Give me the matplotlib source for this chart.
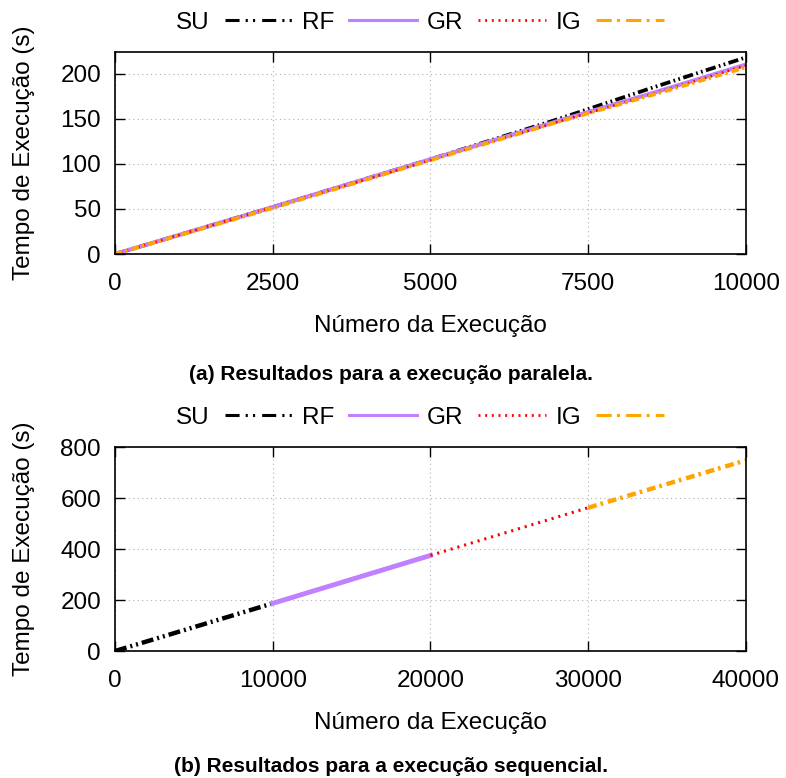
import matplotlib
matplotlib.use('Agg')
import matplotlib.pyplot as plt
from matplotlib.lines import Line2D

plt.rcParams['font.family'] = ['Liberation Sans', 'DejaVu Sans']

# (a) execucao paralela
par_x = [0, 2500, 5000, 7000, 8500, 10000]
par_su = [0, 52, 105, 149, 184, 218]
par_rf = [0, 52, 105, 147, 178, 210]
par_gr = [0, 52, 104, 146, 177, 209]
par_ig = [0, 51, 104, 146, 176, 207]

# (b) execucao sequencial
seq_su_x = [0, 10000]
seq_su = [0, 187]
seq_rf_x = [10000, 20000]
seq_rf = [187, 375]
seq_gr_x = [20000, 30000]
seq_gr = [375, 562]
seq_ig_x = [30000, 40000]
seq_ig = [562, 748]

labels = ['SU', 'RF', 'GR', 'IG']
cores = ['black', '#c080ff', '#ff0000', '#ffa500']
estilos = [(0, (2.7, 0.9, 0.45, 0.9, 0.45, 0.9)), '-', (0, (0.7, 1.6)), (0, (2.0, 0.9, 0.6, 1.1))]
larg = [3.2, 3.5, 2.2, 3.2]
# amostras da legenda (tracos mais longos, linha mais fina)
estilos_leg = [(0, (4.6, 2, 0.7, 1.7, 0.7, 2.3)), '-', (0, (0.7, 1.7)), (0, (5, 1.7, 1, 2))]
larg_leg = [2.2, 2.2, 2.0, 2.2]

fs = 17.5

fig = plt.figure(figsize=(7.86, 7.78), dpi=100)
ax1 = fig.add_axes([0.1463, 0.6735, 0.8027, 0.2597])
ax2 = fig.add_axes([0.1463, 0.1632, 0.8027, 0.2622])

series_par = [par_su, par_rf, par_gr, par_ig]
for i in range(4):
    ax1.plot(par_x, series_par[i], color=cores[i], linestyle=estilos[i], lw=larg[i] * 0.85)

xs_seq = [seq_su_x, seq_rf_x, seq_gr_x, seq_ig_x]
ys_seq = [seq_su, seq_rf, seq_gr, seq_ig]
for i in range(4):
    ax2.plot(xs_seq[i], ys_seq[i], color=cores[i], linestyle=estilos[i], lw=larg[i])

ax1.set_xlim(0, 10000)
ax1.set_ylim(0, 224)
ax1.set_xticks([0, 2500, 5000, 7500, 10000])
ax1.set_yticks([0, 50, 100, 150, 200])

ax2.set_xlim(0, 40000)
ax2.set_ylim(0, 800)
ax2.set_xticks([0, 10000, 20000, 30000, 40000])
ax2.set_yticks([0, 200, 400, 600, 800])

handles = [Line2D([], [], color=cores[i], linestyle=estilos_leg[i], lw=larg_leg[i]) for i in range(4)]

for ax in [ax1, ax2]:
    ax.grid(True, color='#b0b0b0', linestyle=(0, (1, 3)), lw=0.8)
    ax.tick_params(direction='in', length=7, width=1, top=True, right=True, labelsize=fs)
    ax.tick_params(axis='x', pad=14)
    ax.tick_params(axis='y', pad=10)
    for s in ax.spines.values():
        s.set_linewidth(1.2)
    ax.set_xlabel('Número da Execução', fontsize=fs, labelpad=14)
    ax.set_ylabel('Tempo de Execução (s)', fontsize=fs, labelpad=18)
    ax.legend(handles, labels, loc='lower center', bbox_to_anchor=(0.484, 1.03), ncol=4, frameon=False,
              markerfirst=False, fontsize=fs, handlelength=2.8, handletextpad=0.6,
              columnspacing=0.4, borderaxespad=0.1)

fig.text(0.498, 1 - 375 / 778, '(a) Resultados para a execução paralela.', ha='center', va='center',
         fontsize=15, fontweight='bold')
fig.text(0.498, 1 - 767 / 778, '(b) Resultados para a execução sequencial.', ha='center', va='center',
         fontsize=15, fontweight='bold')

fig.savefig('out.png', dpi=100)
